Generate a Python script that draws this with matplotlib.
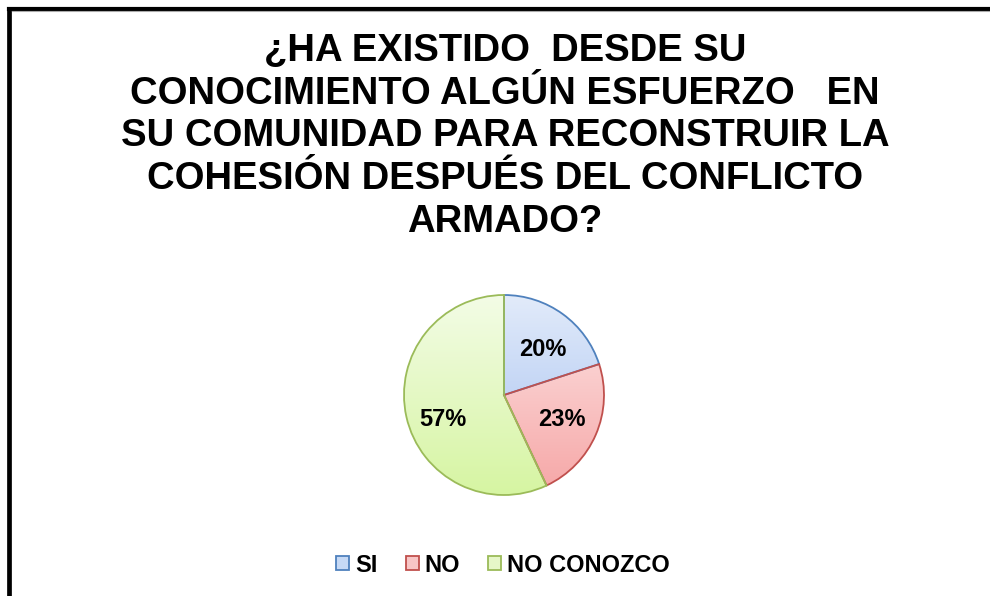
import numpy as np
import matplotlib.pyplot as plt
from matplotlib.patches import Patch
from matplotlib.lines import Line2D
from matplotlib.colors import LinearSegmentedColormap

plt.rcParams['font.family'] = ['Liberation Sans', 'DejaVu Sans']

# data
labels = ['SI', 'NO', 'NO CONOZCO']
values = [20, 23, 57]
edge_colors = ['#4f81bd', '#c0504d', '#9bbb59']
grad_top = ['#e2ebfa', '#fde6e6', '#f3fce6']
grad_bottom = ['#a3bff0', '#f6a6a6', '#d6f5a2']
legend_face = ['#c6d9f5', '#f8c6c6', '#e6f7c8']

title = ('¿HA EXISTIDO  DESDE SU\n'
         'CONOCIMIENTO ALGÚN ESFUERZO   EN\n'
         'SU COMUNIDAD PARA RECONSTRUIR LA\n'
         'COHESIÓN DESPUÉS DEL CONFLICTO\n'
         'ARMADO?')

W, H = 990, 596
fig = plt.figure(figsize=(W / 100, H / 100), dpi=100)
fig.patch.set_facecolor('white')

# frame (only top and left visible)
fig.add_artist(Line2D([9 / W, 9 / W], [0, 1 - 8.5 / H], color='black', lw=3.4,
                      transform=fig.transFigure, solid_capstyle='projecting'))
fig.add_artist(Line2D([9 / W, 1], [1 - 8.5 / H, 1 - 8.5 / H], color='black', lw=3.0,
                      transform=fig.transFigure, solid_capstyle='projecting'))
fig.add_artist(Line2D([12 / W, 1], [1 - 11 / H, 1 - 11 / H], color='#aaaaaa', lw=0.8,
                      transform=fig.transFigure))

fig.text(505 / W, 1 - 33 / H, title, ha='center', va='top', fontsize=27.5,
         fontweight='bold', linespacing=1.24, multialignment='center')

# pie axes: centre (504, 395), radius 100 px
cx, cy, r = 504, 395, 100
pad = 1.1
ax = fig.add_axes([(cx - r * pad) / W, 1 - (cy + r * pad) / H, 2 * r * pad / W, 2 * r * pad / H])
wedges, texts, autotexts = ax.pie(values, startangle=90, counterclock=False,
                                  autopct='%1.0f%%', pctdistance=0.63,
                                  wedgeprops=dict(linewidth=1.3),
                                  textprops=dict(fontsize=17, fontweight='bold'))
ax.set_xlim(-pad, pad)
ax.set_ylim(-pad, pad)
ax.set_aspect('equal')
ax.axis('off')

grad = np.linspace(0, 1, 256).reshape(-1, 1)
for i, w in enumerate(wedges):
    w.set_facecolor('none')
    w.set_edgecolor(edge_colors[i])
    w.set_zorder(3)
    cmap = LinearSegmentedColormap.from_list('g%d' % i, [grad_top[i], grad_bottom[i]])
    im = ax.imshow(grad, cmap=cmap, extent=(-1, 1, -1, 1), origin='upper',
                   aspect='auto', zorder=2)
    im.set_clip_path(w)

# label placement as in the original (Excel "best fit")
label_pos = [(0.39, 0.46), (0.58, -0.24), (-0.61, -0.24)]
for t, p in zip(autotexts, label_pos):
    t.set_position(p)
    t.set_zorder(4)

handles = [Patch(facecolor=legend_face[i], edgecolor=edge_colors[i], linewidth=1.3)
           for i in range(3)]
fig.legend(handles, labels, loc='center', bbox_to_anchor=(503 / W, 1 - 565 / H), ncol=3,
           frameon=False, handlelength=0.55, handleheight=0.55, handletextpad=0.25,
           columnspacing=1.2, prop=dict(size=17, weight='bold'))

fig.savefig('out.png', dpi=100)
